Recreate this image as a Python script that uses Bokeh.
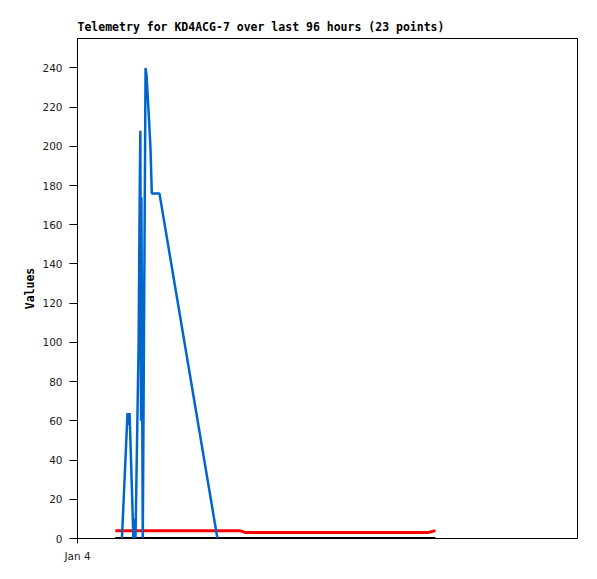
import pandas as pd
from bokeh.plotting import figure
from bokeh.models import Range1d, FixedTicker, DatetimeTickFormatter
from bokeh.embed import file_html
from bokeh.resources import INLINE

# ---- data ----
blue_times = ["2024-01-04 02:08", "2024-01-04 02:24", "2024-01-04 02:27", "2024-01-04 02:30",
              "2024-01-04 02:41", "2024-01-04 02:44", "2024-01-04 02:47", "2024-01-04 02:56",
              "2024-01-04 02:59", "2024-01-04 03:01", "2024-01-04 03:03", "2024-01-04 03:04",
              "2024-01-04 03:08", "2024-01-04 03:16", "2024-01-04 03:19", "2024-01-04 03:24",
              "2024-01-04 03:30", "2024-01-04 03:34", "2024-01-04 03:56", "2024-01-04 06:43"]
blue_values = [0, 64, 58, 64, 0, 10, 0, 100, 172, 208, 60, 174, 0, 240, 236, 220, 200, 176, 176, 0]

red_times = ["2024-01-04 01:49", "2024-01-04 07:47", "2024-01-04 08:04",
             "2024-01-04 16:48", "2024-01-04 17:11"]
red_values = [4, 4, 3, 3, 4]

black_times = ["2024-01-04 01:49", "2024-01-04 17:11"]
black_values = [0, 0]

x_start = "2024-01-04 00:00"
x_end = "2024-01-05 00:00"
x_ticks = ["2024-01-04 00:00"]
y_ticks = [0, 20, 40, 60, 80, 100, 120, 140, 160, 180, 200, 220, 240]
y_max = 255

title_text = "Telemetry for KD4ACG-7 over last 96 hours (23 points)"

# ---- figure ----
to_dt = lambda a: pd.to_datetime(a)
p = figure(x_axis_type="datetime", output_backend="svg", toolbar_location=None,
           frame_width=500, frame_height=500,
           min_border_left=77, min_border_right=12, min_border_top=38, min_border_bottom=33,
           x_range=Range1d(to_dt(x_start), to_dt(x_end)), y_range=Range1d(0, y_max),
           title=title_text)

p.title.text_font = "DejaVu Sans Mono"
p.title.text_font_size = "11.5px"
p.title.text_font_style = "bold"
p.title.text_color = "black"
p.title.offset = 0

p.outline_line_color = "black"
p.outline_line_width = 1
p.outline_line_alpha = 1
p.xgrid.visible = False
p.ygrid.visible = False
p.background_fill_color = "white"
p.border_fill_color = "white"

p.yaxis.ticker = FixedTicker(ticks=y_ticks)
p.yaxis.axis_label = "Values"
p.yaxis.axis_label_text_font = "DejaVu Sans Mono"
p.yaxis.axis_label_text_font_style = "bold"
p.yaxis.axis_label_text_font_size = "11.5px"
p.yaxis.axis_label_text_color = "black"
p.yaxis.axis_label_standoff = 2
p.yaxis.major_tick_out = 8
p.yaxis.major_tick_in = 0
p.yaxis.minor_tick_line_color = None
p.yaxis.major_label_standoff = 7

fmt = "%b %-d"
p.xaxis.ticker = FixedTicker(ticks=[to_dt(t).value / 1e6 for t in x_ticks])
p.xaxis.formatter = DatetimeTickFormatter(
    microseconds=fmt, milliseconds=fmt, seconds=fmt, minsec=fmt, minutes=fmt,
    hourmin=fmt, hours=fmt, days=fmt, months=fmt, years=fmt, context=None)
p.xaxis.major_tick_out = 5
p.xaxis.major_tick_in = 0
p.xaxis.minor_tick_line_color = None
p.xaxis.major_label_standoff = 6

for ax in (p.xaxis, p.yaxis):
    ax.axis_line_color = "black"
    ax.major_tick_line_color = "black"
    ax.major_label_text_font = "DejaVu Sans"
    ax.major_label_text_font_size = "10.5px"
    ax.major_label_text_color = "#222222"

p.line(to_dt(black_times), black_values, line_color="black", line_width=3)
p.line(to_dt(red_times), red_values, line_color="#ff0000", line_width=3)
p.line(to_dt(blue_times), blue_values, line_color="#0066cc", line_width=2.5)

open("out.html", "w").write(file_html(p, INLINE))
